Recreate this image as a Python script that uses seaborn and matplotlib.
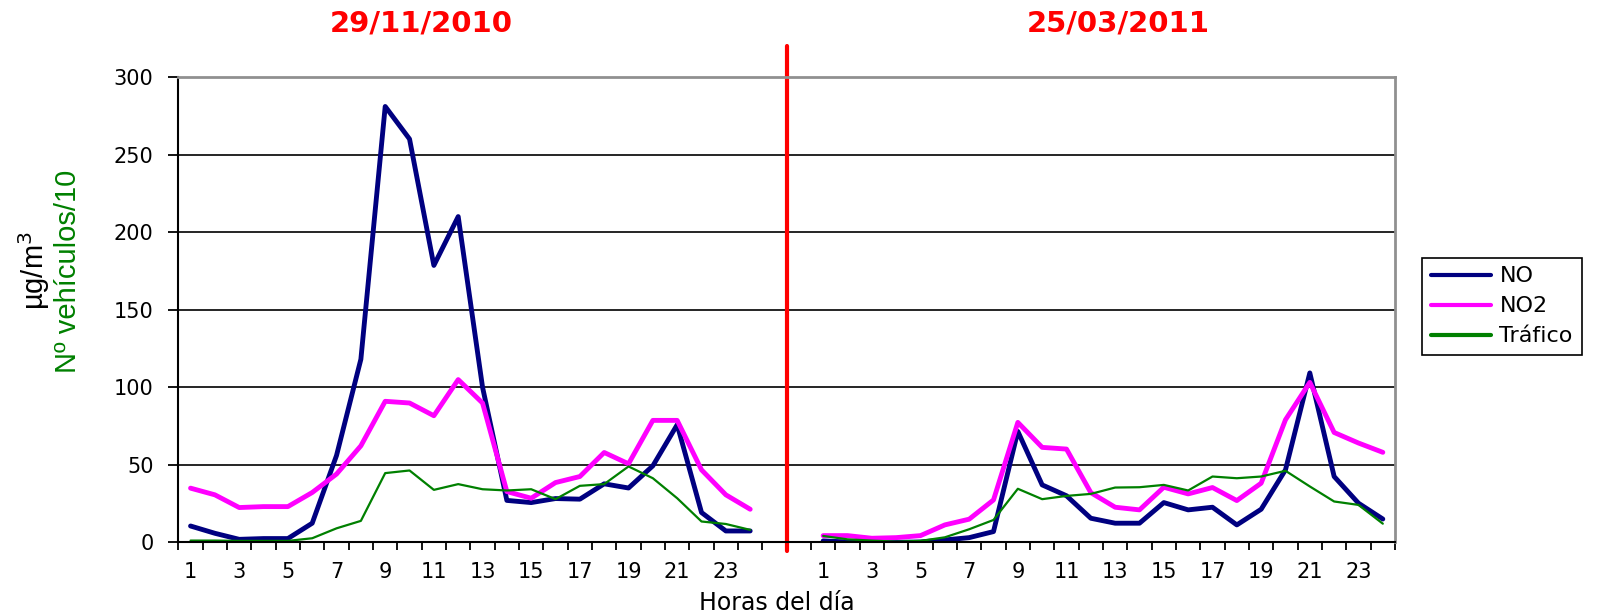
import matplotlib
matplotlib.use("Agg")
import matplotlib.pyplot as plt
from matplotlib.lines import Line2D
import numpy as np
import pandas as pd
import seaborn as sns

# Datos (NO, NO2 en ug/m3; trafico en n vehiculos/10)
horas = list(range(1, 25))
fechas = ["29/11/2010", "25/03/2011"]
series = ["NO", "NO2", "Tráfico"]

no_2010 = [10.5, 5.8, 1.9, 2.4, 2.4, 12.3, 56, 118, 281, 260, 178.5, 210,
           100, 27, 25.6, 28.2, 27.8, 37.7, 35, 49.3, 75.8, 19.2, 7.3, 7.3]
no2_2010 = [34.9, 30.6, 22.4, 23.0, 23.0, 32.1, 44, 62.2, 90.9, 89.8, 81.6, 104.9,
            89.8, 32.7, 28.4, 38.5, 42.4, 57.9, 50.6, 78.6, 78.6, 46.7, 30.6, 21.3]
trafico_2010 = [1.1, 1.1, 0.9, 0.9, 0.9, 2.6, 9.0, 13.8, 44.6, 46.3, 33.8, 37.5,
                34.2, 33.4, 34.2, 27.8, 36.4, 37.5, 48.9, 41.3, 28.4, 13.4, 11.8, 8.0]

no_2011 = [0.9, 0.2, 0, 0, 0.2, 1.5, 3, 6.9, 71.5, 37, 30, 15.5,
           12.3, 12.3, 25.6, 20.9, 22.6, 11.2, 21.3, 46.7, 109.2, 42.4, 25.2, 15]
no2_2011 = [4.3, 4.3, 2.6, 3.0, 4.3, 11.2, 14.9, 27.3, 77.3, 61.2, 60.1, 32,
            22.6, 20.9, 35.5, 31.2, 35.3, 26.9, 38.1, 79.0, 103.1, 70.8, 64, 58]
trafico_2011 = [4.1, 1.9, 1.1, 0.4, 0.9, 3.2, 8.4, 14.4, 34.5, 27.8, 29.9, 31.2,
                35.3, 35.5, 37, 33.4, 42.4, 41.3, 42.4, 46.1, 36, 26.3, 24.1, 12]

colores = {"NO": "#000080", "NO2": "#FF00FF", "Tráfico": "#008000"}
grosores = {"NO": 3.5, "NO2": 3.5, "Tráfico": 1.6}

# two panels on one category axis, 2 empty slots between them
offset = {fechas[0]: 0, fechas[1]: 26}
valores = {
    fechas[0]: {"NO": no_2010, "NO2": no2_2010, "Tráfico": trafico_2010},
    fechas[1]: {"NO": no_2011, "NO2": no2_2011, "Tráfico": trafico_2011},
}
rows = []
for f in fechas:
    for s in series:
        for h, v in zip(horas, valores[f][s]):
            rows.append({"pos": h - 1 + offset[f], "valor": v, "serie": s, "panel": f})
df = pd.DataFrame(rows)

sns.set_style("white")
plt.rcParams["font.family"] = ["DejaVu Sans"]
plt.rcParams["text.color"] = "black"
plt.rcParams["xtick.color"] = "black"
plt.rcParams["ytick.color"] = "black"
plt.rcParams["axes.labelcolor"] = "black"

fig = plt.figure(figsize=(15.97, 6.14), dpi=100)
ax = fig.add_axes([0.1117, 0.1168, 0.7618, 0.7578])

sns.lineplot(data=df, x="pos", y="valor", hue="serie", size="serie",
             units="panel", estimator=None, hue_order=series,
             palette=colores, sizes=grosores, legend=False, ax=ax)

ax.set_xlim(-0.5, 49.5)
ax.set_ylim(0, 300)
ax.set_xlabel("")
ax.set_ylabel("")

# ticks at category boundaries, labels on odd hours
ax.set_xticks(np.arange(-0.5, 50, 1))
ax.set_xticklabels([])
lab_pos = [h - 1 + offset[f] for f in fechas for h in horas[::2]]
lab_txt = [str(h) for f in fechas for h in horas[::2]]
ax.set_xticks(lab_pos, minor=True)
ax.set_xticklabels(lab_txt, minor=True, fontsize=15)
ax.tick_params(axis="x", which="major", direction="out", length=6, width=1.3,
               color="black", bottom=True)
ax.tick_params(axis="x", which="minor", length=0, pad=14, labelcolor="black")

ax.set_yticks(np.arange(0, 301, 50))
ax.tick_params(axis="y", direction="out", length=7, width=1.3, color="black",
               labelsize=15, pad=11, left=True, labelcolor="black")

ax.yaxis.grid(True, color="black", lw=1.2)
ax.xaxis.grid(False)
ax.set_axisbelow(True)

for side in ["left", "bottom"]:
    ax.spines[side].set_color("black")
    ax.spines[side].set_linewidth(1.5)
for side in ["top", "right"]:
    ax.spines[side].set_color("#909090")
    ax.spines[side].set_linewidth(2)

ax.axvline(24.5, ymin=-0.019, ymax=1.067, color="red", lw=3, clip_on=False)

fig.text(0.264, 0.962, fechas[0], color="red", fontsize=21, fontweight="bold",
         ha="center", va="center")
fig.text(0.700, 0.962, fechas[1], color="red", fontsize=21, fontweight="bold",
         ha="center", va="center")

fig.text(0.4866, 0.018, "Horas del día", fontsize=17, ha="center", va="center")
fig.text(0.0215, 0.559, "µg/m$^3$", fontsize=21, rotation=90, ha="center",
         va="center", family="Liberation Sans")
fig.text(0.0428, 0.558, "Nº vehículos/10", fontsize=21, rotation=90, ha="center",
         va="center", color="#008000", family="Liberation Sans")

handles = [Line2D([], [], color=colores[s], lw=3) for s in series]
leg = fig.legend(handles, series, loc="upper left", bbox_to_anchor=(0.8902, 0.5805),
                 frameon=True, fancybox=False, edgecolor="black", framealpha=1,
                 prop={"family": "DejaVu Sans", "size": 16},
                 handlelength=2.7, handletextpad=0.4, labelspacing=0.45,
                 borderpad=0.4, borderaxespad=0)
leg.get_frame().set_linewidth(1.2)

fig.savefig("out.png", dpi=100)
